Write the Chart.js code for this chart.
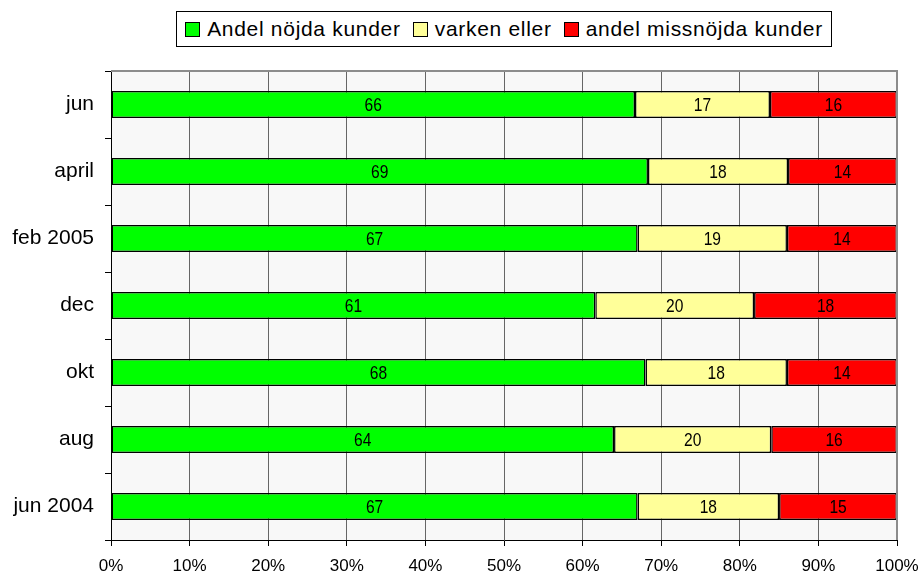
<!DOCTYPE html>
<html>
<head>
<meta charset="utf-8">
<script src="https://cdn.jsdelivr.net/npm/chart.js@4/dist/chart.umd.min.js"></script>
<style>
  html, body { margin: 0; padding: 0; background: #fff; }
  #wrap { position: relative; width: 922px; height: 578px; }
  #legend {
    position: absolute; left: 176px; top: 11px; width: 654px; height: 34px;
    border: 1px solid #000; background: #fff;
    display: flex; align-items: center; justify-content: center;
    font-family: "Liberation Sans", Arial, sans-serif; font-size: 21px; letter-spacing: 0.7px; color: #000;
  }
  #legend .item { display: flex; align-items: center; margin: 0 6px; }
  #legend .box { width: 13px; height: 13px; border: 1px solid #000; margin-right: 7px; }
</style>
</head>
<body>
<div id="wrap">
  <canvas id="chart" width="922" height="578"></canvas>
  <div id="legend"></div>
</div>
<script>
const categories = ["jun", "april", "feb 2005", "dec", "okt", "aug", "jun 2004"];
const seriesNames = ["Andel nöjda kunder", "varken eller", "andel missnöjda kunder"];
const seriesColors = ["#00ff00", "#ffff99", "#ff0000"];
const nojda = [66, 69, 67, 61, 68, 64, 67];
const varken = [17, 18, 19, 20, 18, 20, 18];
const missnojda = [16, 14, 14, 18, 14, 16, 15];
const xTicks = [0, 10, 20, 30, 40, 50, 60, 70, 80, 90, 100];

const raw = [nojda, varken, missnojda];
const totals = categories.map((c, i) => nojda[i] + varken[i] + missnojda[i]);

/* ---------- HTML legend ---------- */
const legendEl = document.getElementById("legend");
seriesNames.forEach((name, i) => {
    const item = document.createElement("div");
    item.className = "item";
    item.innerHTML = `<span class="box" style="background:${seriesColors[i]}"></span><span>${name}</span>`;
    legendEl.appendChild(item);
});

/* ---------- Plugins ---------- */
const plotBackground = {
    id: "plotBackground",
    beforeDraw(chart) {
        const { ctx, chartArea: a } = chart;
        ctx.save();
        ctx.fillStyle = "#f8f8f8";
        ctx.fillRect(a.left, a.top, a.right - a.left, a.bottom - a.top);
        ctx.restore();
    },
    afterDatasetsDraw(chart) {
        const { ctx, chartArea: a } = chart;
        ctx.save();
        ctx.strokeStyle = "#8c8c8c";
        ctx.lineWidth = 2;
        ctx.beginPath();
        ctx.moveTo(a.left, a.top);
        ctx.lineTo(a.right, a.top);
        ctx.lineTo(a.right, a.bottom);
        ctx.stroke();
        ctx.restore();
    }
};

// narrow-looking value labels (squeezed horizontally)
const valueLabels = {
    id: "valueLabels",
    afterDatasetsDraw(chart) {
        const ctx = chart.ctx;
        const squeeze = 0.82;
        ctx.save();
        ctx.font = '19px "Liberation Sans", Arial, sans-serif';
        ctx.fillStyle = "#000";
        ctx.textAlign = "center";
        ctx.textBaseline = "middle";
        chart.data.datasets.forEach((ds, di) => {
            chart.getDatasetMeta(di).data.forEach((bar, i) => {
                const p = bar.getProps(["x", "y", "base"], true);
                const cx = (p.x + p.base) / 2;
                ctx.save();
                ctx.translate(cx, p.y + 1);
                ctx.scale(squeeze, 1);
                ctx.fillText(String(raw[di][i]), 0, 0);
                ctx.restore();
            });
        });
        ctx.restore();
    }
};

/* ---------- Chart ---------- */
new Chart(document.getElementById("chart"), {
    type: "bar",
    data: {
        labels: categories,
        datasets: raw.map((vals, di) => ({
            label: seriesNames[di],
            data: vals.map((v, i) => v / totals[i] * 100),
            backgroundColor: seriesColors[di],
            borderColor: "#000",
            borderWidth: 1.5,
            borderSkipped: false,
            barPercentage: 1,
            categoryPercentage: 0.4
        }))
    },
    options: {
        indexAxis: "y",
        responsive: false,
        animation: false,
        layout: { padding: { top: 71, right: 25, bottom: 0, left: 0 } },
        plugins: {
            legend: { display: false },
            tooltip: { enabled: false }
        },
        scales: {
            x: {
                stacked: true,
                min: 0,
                max: 100,
                afterFit(scale) {
                    scale.height = 38;
                    scale.paddingRight = 0;
                    scale.paddingLeft = 0;
                },
                afterBuildTicks(scale) { scale.ticks = xTicks.map(v => ({ value: v })); },
                grid: { color: "#666", tickColor: "#000", tickLength: 6, lineWidth: 1 },
                border: { color: "#000", width: 1 },
                ticks: {
                    color: "#000",
                    padding: 10,
                    maxRotation: 0,
                    font: { family: '"Liberation Sans", Arial, sans-serif', size: 17 },
                    callback: v => v + "%"
                }
            },
            y: {
                stacked: true,
                afterFit(scale) { scale.width = 111; },
                grid: { drawOnChartArea: false, offset: true, color: "#000", tickLength: 6 },
                border: { color: "#000", width: 1 },
                ticks: {
                    color: "#000",
                    padding: 11,
                    font: { family: '"Liberation Sans", Arial, sans-serif', size: 21 }
                }
            }
        }
    },
    plugins: [plotBackground, valueLabels]
});
</script>
</body>
</html>
